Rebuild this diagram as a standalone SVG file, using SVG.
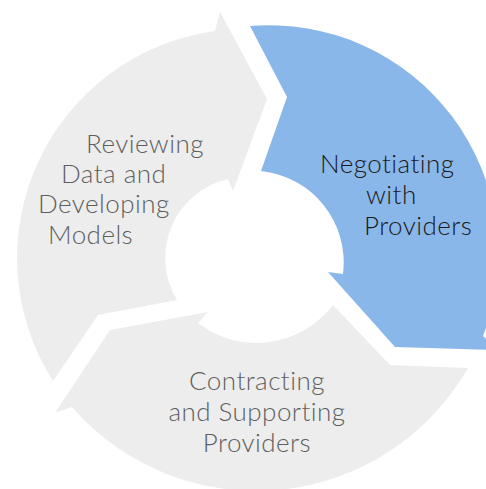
<svg xmlns="http://www.w3.org/2000/svg" width="486" height="489" viewBox="0 0 486 489">
  <style>
    .seg-grey { fill: #EDEDED; }
    .seg-blue { fill: #8AB7E9; }
    .lbl { font-family: Lato, "Open Sans", "Liberation Sans", sans-serif; font-weight: 300; font-size: 26px; letter-spacing: 0.45px; }
    .lbl-grey { fill: #5F5F5F; }
    .lbl-blue { fill: #1A1A1A; }
  </style>
  <rect width="486" height="489" fill="#FFFFFF"/>
  <g id="connectors"></g>
  <g id="node-reviewing">
    <path class="seg-grey" d="M 53,381 A 229 229 0 0 1 215,31 L 220,12 L 267,99 L 233,191 L 228,179 A 81 81 0 0 0 177,300 L 98,315 Z"/>
    <text class="lbl lbl-grey" x="86" y="153">Reviewing</text>
    <text class="lbl lbl-grey" x="61" y="183">Data and</text>
    <text class="lbl lbl-grey" x="38" y="213">Developing</text>
    <text class="lbl lbl-grey" x="48" y="244">Models</text>
  </g>
  <g id="node-negotiating">
    <path class="seg-blue" d="M 250,26 A 229 229 0 0 1 483,336 L 498,350 L 395,347 L 328,272 L 343,274 A 92 92 0 0 0 261,171 L 287,97 Z"/>
    <text class="lbl lbl-blue" x="320" y="173">Negotiating</text>
    <text class="lbl lbl-blue" x="366" y="204">with</text>
    <text class="lbl lbl-blue" x="364" y="235">Providers</text>
  </g>
  <g id="node-contracting">
    <path class="seg-grey" d="M 468,368 A 244 244 0 0 1 72,407 L 55,413 L 110,330 L 208,312 L 198,323 A 96 96 0 0 0 333,305 L 390,365 Z"/>
    <text class="lbl lbl-grey" x="257" y="390" text-anchor="middle">Contracting</text>
    <text class="lbl lbl-grey" x="257" y="421" text-anchor="middle">and Supporting</text>
    <text class="lbl lbl-grey" x="257" y="452" text-anchor="middle">Providers</text>
  </g>
</svg>
